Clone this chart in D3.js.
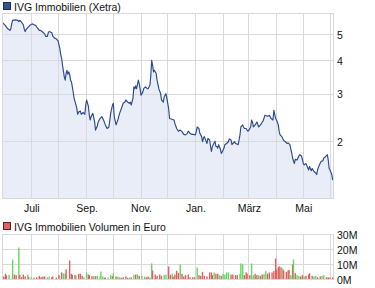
<!DOCTYPE html>
<html><head><meta charset="utf-8">
<script src="https://cdn.jsdelivr.net/npm/d3@7"></script>
<style>
body{margin:0;background:#fff}
svg{display:block}
text{font-family:"Liberation Sans",Arial,sans-serif;font-size:10.5px;fill:#111}
</style>
</head><body>
<svg id="c" width="375" height="288"></svg>
<script>
const priceDates = ["2011-05-30","2011-06-02","2011-06-04","2011-06-07","2011-06-08","2011-06-09","2011-06-10","2011-06-13","2011-06-16","2011-06-17","2011-06-18","2011-06-20","2011-06-22","2011-06-23","2011-06-24","2011-06-25","2011-06-27","2011-06-29","2011-07-02","2011-07-04","2011-07-06","2011-07-08","2011-07-10","2011-07-11","2011-07-13","2011-07-14","2011-07-16","2011-07-17","2011-07-19","2011-07-20","2011-07-21","2011-07-23","2011-07-24","2011-07-25","2011-07-27","2011-07-29","2011-07-31","2011-08-01","2011-08-02","2011-08-03","2011-08-04","2011-08-05","2011-08-06","2011-08-07","2011-08-08","2011-08-09","2011-08-10","2011-08-11","2011-08-12","2011-08-13","2011-08-14","2011-08-15","2011-08-16","2011-08-17","2011-08-18","2011-08-20","2011-08-21","2011-08-22","2011-08-23","2011-08-25","2011-08-26","2011-08-28","2011-08-29","2011-08-30","2011-08-31","2011-09-01","2011-09-03","2011-09-04","2011-09-05","2011-09-06","2011-09-08","2011-09-09","2011-09-10","2011-09-11","2011-09-13","2011-09-14","2011-09-16","2011-09-18","2011-09-20","2011-09-22","2011-09-24","2011-09-26","2011-09-28","2011-09-30","2011-10-01","2011-10-02","2011-10-04","2011-10-06","2011-10-08","2011-10-10","2011-10-12","2011-10-14","2011-10-15","2011-10-17","2011-10-19","2011-10-20","2011-10-21","2011-10-23","2011-10-24","2011-10-25","2011-10-26","2011-10-27","2011-10-29","2011-10-30","2011-10-31","2011-11-01","2011-11-03","2011-11-04","2011-11-06","2011-11-08","2011-11-09","2011-11-11","2011-11-12","2011-11-13","2011-11-14","2011-11-15","2011-11-16","2011-11-18","2011-11-19","2011-11-21","2011-11-23","2011-11-24","2011-11-26","2011-11-27","2011-11-29","2011-11-30","2011-12-02","2011-12-03","2011-12-05","2011-12-08","2011-12-09","2011-12-11","2011-12-13","2011-12-15","2011-12-17","2011-12-19","2011-12-21","2011-12-23","2011-12-24","2011-12-26","2011-12-28","2011-12-30","2012-01-01","2012-01-02","2012-01-03","2012-01-05","2012-01-06","2012-01-08","2012-01-09","2012-01-10","2012-01-11","2012-01-12","2012-01-14","2012-01-15","2012-01-17","2012-01-18","2012-01-19","2012-01-20","2012-01-21","2012-01-23","2012-01-24","2012-01-25","2012-01-26","2012-01-27","2012-01-29","2012-01-30","2012-01-31","2012-02-02","2012-02-03","2012-02-05","2012-02-07","2012-02-08","2012-02-10","2012-02-11","2012-02-12","2012-02-14","2012-02-15","2012-02-17","2012-02-18","2012-02-19","2012-02-20","2012-02-21","2012-02-23","2012-02-24","2012-02-25","2012-02-27","2012-02-28","2012-02-29","2012-03-01","2012-03-03","2012-03-04","2012-03-05","2012-03-06","2012-03-08","2012-03-10","2012-03-12","2012-03-14","2012-03-16","2012-03-17","2012-03-19","2012-03-22","2012-03-24","2012-03-26","2012-03-28","2012-03-29","2012-03-31","2012-04-01","2012-04-03","2012-04-04","2012-04-05","2012-04-07","2012-04-09","2012-04-11","2012-04-13","2012-04-14","2012-04-16","2012-04-17","2012-04-18","2012-04-19","2012-04-21","2012-04-22","2012-04-24","2012-04-26","2012-04-27","2012-04-29","2012-04-30","2012-05-01","2012-05-02","2012-05-04","2012-05-05","2012-05-07","2012-05-08","2012-05-10","2012-05-11","2012-05-13","2012-05-15","2012-05-16","2012-05-17","2012-05-19","2012-05-21","2012-05-23","2012-05-24","2012-05-26","2012-05-28","2012-05-29","2012-05-30","2012-05-31","2012-06-02","2012-06-03"];
const prices = [5.54,5.41,5.29,5.19,5.26,5.49,5.66,5.68,5.66,5.60,5.66,5.57,5.45,5.26,5.14,5.23,5.32,5.41,5.49,5.45,5.41,5.29,5.19,5.20,5.14,5.11,5.04,4.93,4.93,5.09,5.14,5.11,5.09,4.94,4.86,4.83,4.75,4.59,4.44,4.22,4.08,3.85,3.66,3.48,3.39,3.59,3.69,3.56,3.64,3.56,3.39,3.34,3.20,3.05,2.90,2.75,2.66,2.53,2.58,2.60,2.53,2.57,2.55,2.53,2.74,2.86,2.71,2.51,2.41,2.48,2.55,2.46,2.37,2.21,2.29,2.37,2.44,2.48,2.41,2.31,2.24,2.27,2.55,2.74,2.78,2.48,2.31,2.41,2.55,2.66,2.78,2.81,2.86,2.81,2.78,2.81,2.74,2.90,3.20,3.15,3.23,3.15,3.39,3.29,3.15,2.98,3.06,3.15,3.20,3.15,3.15,3.25,3.53,4.02,3.85,3.64,3.69,3.59,3.39,3.15,3.02,2.86,2.81,2.94,3.02,2.90,2.66,2.44,2.43,2.41,2.34,2.24,2.19,2.21,2.18,2.13,2.12,2.15,2.19,2.15,2.13,2.13,2.12,2.18,2.27,2.24,2.15,2.09,2.00,2.06,2.09,2.05,1.97,2.06,2.03,1.92,1.84,1.92,1.95,2.01,1.92,1.92,1.89,1.95,1.88,1.81,1.83,1.89,1.95,1.97,2.00,2.05,2.03,1.95,1.97,2.00,1.97,1.96,1.95,2.03,2.12,2.27,2.31,2.27,2.24,2.24,2.21,2.19,2.21,2.27,2.41,2.37,2.27,2.31,2.37,2.27,2.31,2.37,2.39,2.51,2.49,2.51,2.44,2.41,2.62,2.44,2.41,2.31,2.18,2.12,2.09,2.02,2.00,1.97,1.98,1.95,1.88,1.82,1.74,1.66,1.72,1.71,1.77,1.79,1.77,1.72,1.66,1.64,1.66,1.63,1.57,1.62,1.56,1.59,1.55,1.53,1.51,1.57,1.64,1.69,1.70,1.74,1.76,1.79,1.71,1.59,1.57,1.51,1.44];

const volDates = ["2011-05-31","2011-06-02","2011-06-03","2011-06-06","2011-06-10","2011-06-12","2011-06-14","2011-06-17","2011-06-18","2011-06-20","2011-06-22","2011-06-24","2011-06-27","2011-06-28","2011-07-01","2011-07-04","2011-07-07","2011-07-10","2011-07-12","2011-07-14","2011-07-16","2011-07-19","2011-07-21","2011-07-24","2011-07-25","2011-07-29","2011-08-01","2011-08-04","2011-08-06","2011-08-08","2011-08-09","2011-08-13","2011-08-15","2011-08-16","2011-08-19","2011-08-20","2011-08-23","2011-08-25","2011-08-27","2011-08-29","2011-09-01","2011-09-03","2011-09-04","2011-09-07","2011-09-09","2011-09-11","2011-09-13","2011-09-16","2011-09-17","2011-09-19","2011-09-21","2011-09-22","2011-09-25","2011-09-28","2011-09-30","2011-10-01","2011-10-04","2011-10-06","2011-10-08","2011-10-10","2011-10-12","2011-10-15","2011-10-17","2011-10-19","2011-10-21","2011-10-24","2011-10-26","2011-10-28","2011-10-30","2011-11-02","2011-11-05","2011-11-07","2011-11-09","2011-11-11","2011-11-13","2011-11-14","2011-11-17","2011-11-19","2011-11-22","2011-11-24","2011-11-27","2011-11-29","2011-12-02","2011-12-04","2011-12-06","2011-12-07","2011-12-09","2011-12-11","2011-12-13","2011-12-15","2011-12-17","2011-12-19","2011-12-21","2011-12-24","2011-12-26","2011-12-29","2011-12-31","2012-01-03","2012-01-05","2012-01-07","2012-01-09","2012-01-11","2012-01-14","2012-01-17","2012-01-19","2012-01-20","2012-01-22","2012-01-24","2012-01-26","2012-01-28","2012-01-30","2012-02-01","2012-02-03","2012-02-05","2012-02-07","2012-02-10","2012-02-12","2012-02-15","2012-02-17","2012-02-20","2012-02-21","2012-02-23","2012-02-25","2012-02-27","2012-02-28","2012-03-02","2012-03-04","2012-03-06","2012-03-08","2012-03-10","2012-03-12","2012-03-14","2012-03-16","2012-03-18","2012-03-20","2012-03-22","2012-03-24","2012-03-27","2012-03-29","2012-03-31","2012-04-01","2012-04-03","2012-04-04","2012-04-06","2012-04-08","2012-04-09","2012-04-12","2012-04-14","2012-04-15","2012-04-17","2012-04-19","2012-04-20","2012-04-22","2012-04-24","2012-04-26","2012-04-28","2012-04-30","2012-05-02","2012-05-04","2012-05-07","2012-05-08","2012-05-11","2012-05-13","2012-05-15","2012-05-17","2012-05-20","2012-05-22","2012-05-24","2012-05-27","2012-05-29","2012-05-31","2012-06-03"];
const volumes = [2.0,3.8,2.7,3.1,13.3,3.3,2.9,21.3,3.1,1.5,3.3,2.0,3.1,1.5,1.5,1.3,1.5,2.4,1.5,2.0,2.0,1.5,2.0,1.5,2.0,1.3,2.9,4.7,4.0,4.0,6.7,12.7,3.8,2.9,2.9,2.9,3.8,3.8,2.4,1.5,4.7,3.3,2.9,2.2,2.4,2.2,2.4,2.0,5.3,2.0,1.1,1.3,1.3,2.9,2.2,4.0,2.0,2.0,1.5,1.1,1.5,2.0,1.1,1.1,1.5,3.1,3.3,3.3,2.4,2.4,2.0,1.5,2.0,1.3,10.7,6.0,3.3,2.4,3.3,2.4,2.9,3.3,8.7,3.1,3.8,2.0,3.3,5.8,4.4,10.0,3.8,2.0,2.9,3.3,1.5,1.5,1.5,8.0,2.9,2.4,5.1,2.4,2.0,4.7,4.7,2.9,4.7,3.8,3.8,2.9,2.4,3.8,3.3,4.7,4.7,3.3,3.3,2.9,2.9,3.8,10.7,10.0,2.9,4.7,3.8,2.9,10.7,2.9,3.8,2.9,2.9,2.4,3.3,3.6,5.6,3.8,4.7,4.7,5.6,14.0,6.4,8.2,8.7,8.2,7.3,6.0,5.1,6.0,6.4,2.9,10.0,13.3,4.2,2.9,2.4,2.0,2.9,2.0,2.4,3.3,4.2,2.4,2.0,2.4,1.5,2.0,2.4,2.9,1.5,1.5,1.3,1.5];
const volUp = [0,0,0,1,1,0,0,1,0,0,0,0,1,0,1,0,0,0,0,0,0,1,1,0,0,0,0,0,1,1,0,0,0,0,0,1,0,0,0,1,1,0,0,0,1,0,1,1,1,1,0,0,1,1,0,1,0,1,1,0,0,0,0,1,0,1,0,1,0,1,1,0,0,1,1,0,0,0,0,0,1,1,0,0,1,0,0,0,0,1,0,0,0,0,0,0,0,1,0,0,0,0,0,0,0,0,1,0,0,1,0,1,1,1,1,0,0,0,0,1,1,1,0,0,0,0,1,1,0,0,1,0,0,1,1,0,0,0,0,0,0,0,0,0,1,0,0,0,0,1,0,1,0,1,1,0,0,1,0,0,0,0,1,1,0,0,1,1,0,0,0,0];

const priceTicks = [2,3,4,5];
const volTicks = [0,10,20,30];
const gridMonths = ["2011-07-01","2011-08-01","2011-09-01","2011-10-01","2011-11-01","2011-12-01","2012-01-01","2012-02-01","2012-03-01","2012-04-01","2012-05-01","2012-06-01"];
const labelMonths = ["2011-07-01","2011-09-01","2011-11-01","2012-01-01","2012-03-01","2012-05-01"];
const monthLabels = ["Juli","Sep.","Nov.","Jan.","März","Mai"];

const parse = d3.timeParse("%Y-%m-%d");
const svg = d3.select("#c");
const L = 2.5, R = 333.5, T = 13.5, B = 198.5;
const VT = 234.5, VB = 279.5;
const gridCol = "#d9d9d9", lineCol = "#2b4a8b", fillCol = "#e9edf8";
const redCol = "#dc6262", greenCol = "#62d862";

const pts = priceDates.map((d,i)=>({d:parse(d), v:prices[i]}));
const x = d3.scaleTime().domain(d3.extent(pts, p=>p.d)).range([L+0.3, R-0.8]);
const y = d3.scaleLog().domain([1.23, 6]).range([B, T]);
const yv = d3.scaleLinear().domain([0, 30]).range([VB, VT]);
const snap = v => Math.round(v - 0.5) + 0.5;

// legend titles
svg.append("rect").attr("x",3.5).attr("y",2.5).attr("width",7).attr("height",7)
  .attr("fill","#34548f").attr("stroke","#1d2f57");
svg.append("text").attr("x",14).attr("y",11).text("IVG Immobilien (Xetra)");
svg.append("rect").attr("x",3.5).attr("y",222.5).attr("width",7).attr("height",7)
  .attr("fill",redCol).attr("stroke","#5a2020");
svg.append("text").attr("x",14).attr("y",231).text("IVG Immobilien Volumen in Euro");

// main panel grid
const g = svg.append("g").attr("shape-rendering","crispEdges");
gridMonths.forEach(m=>{
  const xx = snap(x(parse(m)));
  g.append("line").attr("x1",xx).attr("x2",xx).attr("y1",T).attr("y2",B).attr("stroke",gridCol);
  g.append("line").attr("x1",xx).attr("x2",xx).attr("y1",VT).attr("y2",VB).attr("stroke",gridCol);
});
priceTicks.forEach(t=>{
  const yy = snap(y(t));
  g.append("line").attr("x1",L).attr("x2",R).attr("y1",yy).attr("y2",yy).attr("stroke",gridCol);
});
volTicks.slice(1).forEach(t=>{
  const yy = snap(yv(t));
  g.append("line").attr("x1",L).attr("x2",R).attr("y1",yy).attr("y2",yy).attr("stroke",gridCol);
});

// area + line
const area = d3.area().x(p=>x(p.d)).y0(B).y1(p=>y(p.v));
const line = d3.line().x(p=>x(p.d)).y(p=>y(p.v));
svg.append("path").datum(pts).attr("d",area).attr("fill",fillCol);
// redraw grid on top of fill (grid visible through area in reference)
const g2 = svg.append("g").attr("shape-rendering","crispEdges").attr("opacity",0.9);
gridMonths.forEach(m=>{
  const xx = snap(x(parse(m)));
  g2.append("line").attr("x1",xx).attr("x2",xx).attr("y1",T).attr("y2",B).attr("stroke",gridCol);
});
priceTicks.forEach(t=>{
  const yy = snap(y(t));
  g2.append("line").attr("x1",L).attr("x2",R).attr("y1",yy).attr("y2",yy).attr("stroke",gridCol);
});
svg.append("path").datum(pts).attr("d",line).attr("fill","none")
  .attr("stroke",lineCol).attr("stroke-width",1.15).attr("stroke-linejoin","round");

// frames
svg.append("rect").attr("x",L).attr("y",T).attr("width",R-L).attr("height",B-T)
  .attr("fill","none").attr("stroke",gridCol).attr("shape-rendering","crispEdges");
svg.append("rect").attr("x",L).attr("y",VT).attr("width",R-L).attr("height",VB-VT)
  .attr("fill","none").attr("stroke",gridCol).attr("shape-rendering","crispEdges");

// volume bars
const bw = 1.4;
svg.append("g").selectAll("rect").data(volDates.map((d,i)=>({d:parse(d), v:volumes[i], up:volUp[i]})))
  .join("rect")
  .attr("x", b=>x(b.d)-bw/2).attr("width", bw)
  .attr("y", b=>yv(b.v)).attr("height", b=>VB-0.5-yv(b.v))
  .attr("fill", b=>b.up ? greenCol : redCol);

// axis labels
priceTicks.forEach(t=>{
  svg.append("text").attr("x",337).attr("y",y(t)+4).text(d3.format("d")(t));
});
volTicks.forEach(t=>{
  svg.append("text").attr("x",337).attr("y",yv(t)+4.5).text(t+"M");
});
labelMonths.forEach((m,i)=>{
  svg.append("text").attr("x",x(parse(m))+0.5).attr("y",211.5).attr("text-anchor","middle").text(monthLabels[i]);
});
</script>
</body></html>
